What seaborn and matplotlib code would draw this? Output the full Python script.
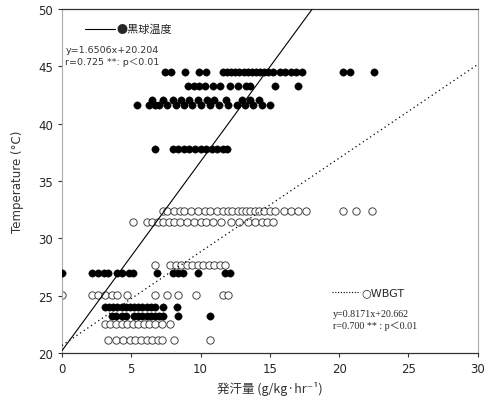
import numpy as np
import pandas as pd
import matplotlib
matplotlib.use("Agg")
import matplotlib.pyplot as plt
import seaborn as sns

# 黒球温度 (filled) : temperature level -> sweat values
globe_levels = [44.5, 43.3, 42.1, 41.6, 37.8, 27.0, 24.0, 23.2]
globe_x = [
    [7.4, 7.9, 8.9, 9.9, 10.4, 11.6, 11.9, 12.2, 12.5, 12.8, 13.1, 13.4, 13.7, 14.0,
     14.3, 14.6, 14.9, 15.2, 15.7, 16.1, 16.5, 16.9, 17.3, 20.3, 20.8, 22.5],
    [9.1, 9.5, 9.9, 10.3, 10.9, 11.4, 12.1, 12.7, 13.3, 13.6, 15.4, 17.0],
    [6.5, 7.3, 8.0, 8.6, 9.2, 9.8, 10.5, 11.0, 11.8, 13.0, 13.6, 14.2],
    [5.4, 6.3, 6.7, 7.0, 7.6, 8.2, 8.8, 9.4, 10.0, 10.7, 11.3, 12.0, 12.6, 13.2,
     13.8, 14.4, 15.0],
    [6.7, 8.0, 8.4, 8.8, 9.2, 9.6, 10.0, 10.4, 10.8, 11.2, 11.6, 11.9],
    [0.0, 2.2, 2.6, 3.0, 3.3, 4.0, 4.3, 4.8, 5.1, 6.85, 8.0, 8.4, 8.7, 9.8, 11.75, 12.1],
    [3.1, 3.4, 3.7, 4.0, 4.3, 4.6, 4.9, 5.2, 5.5, 5.8, 6.1, 6.4, 6.7, 7.3, 8.3],
    [3.6, 3.9, 4.3, 4.6, 5.2, 5.5, 5.8, 6.1, 6.4, 6.7, 7.0, 7.3, 8.4, 10.7],
]

# WBGT (open)
wbgt_levels = [32.4, 31.4, 27.7, 25.1, 22.5, 21.1]
wbgt_x = [
    [7.3, 7.6, 8.1, 8.5, 8.8, 9.3, 9.8, 10.3, 10.7, 11.2, 11.6, 12.0, 12.3, 12.7,
     13.0, 13.3, 13.6, 13.9, 14.2, 14.6, 15.0, 15.4, 16.0, 16.5, 17.0, 17.6,
     20.3, 21.2, 22.4],
    [5.1, 6.1, 6.5, 6.9, 7.3, 7.7, 8.1, 8.5, 9.0, 9.5, 10.0, 10.4, 10.9, 11.5,
     12.2, 12.8, 13.4, 13.9, 14.4, 14.8, 15.2],
    [6.7, 7.8, 8.2, 8.6, 9.0, 9.4, 9.8, 10.2, 10.6, 11.0, 11.4, 11.75],
    [0.0, 2.2, 2.6, 3.1, 3.6, 4.0, 4.7, 6.7, 7.6, 8.4, 9.7, 11.6, 12.0],
    [3.1, 3.5, 3.9, 4.3, 4.7, 5.1, 5.5, 5.9, 6.3, 6.7, 7.2, 7.8],
    [3.3, 3.9, 4.4, 4.9, 5.3, 5.7, 6.1, 6.5, 6.9, 7.2, 8.1, 10.7],
]

# regression lines
globe_fit = (1.6506, 20.204)
wbgt_fit = (0.8171, 20.662)

x_ticks = [0, 5, 10, 15, 20, 25, 30]
y_ticks = [20, 25, 30, 35, 40, 45, 50]


def to_frame(levels, xs):
    rows = []
    for lvl, vals in zip(levels, xs):
        for v in vals:
            rows.append({"sweat": v, "temp": lvl})
    return pd.DataFrame(rows)


globe = to_frame(globe_levels, globe_x)
wbgt = to_frame(wbgt_levels, wbgt_x)

sns.set_style("ticks")
plt.rcParams["font.family"] = ["DejaVu Sans", "Noto Sans CJK JP"]

fig = plt.figure(figsize=(4.88, 4.06), dpi=100)
ax = fig.add_axes([0.127, 0.128, 0.852, 0.847])

sns.scatterplot(data=wbgt, x="sweat", y="temp", ax=ax, s=28, marker="o",
                facecolor="white", edgecolor="#444444", linewidth=0.7, zorder=2)
sns.scatterplot(data=globe, x="sweat", y="temp", ax=ax, s=28, marker="o",
                color="black", edgecolor="black", linewidth=0.3, zorder=3)

a, b = globe_fit
xg = np.array([0, (50 - b) / a])
ax.plot(xg, a * xg + b, color="black", lw=0.8, zorder=4)
a2, b2 = wbgt_fit
xw = np.array([0, 30])
ax.plot(xw, a2 * xw + b2, color="black", lw=0.9, ls=(0, (1, 2.5)), zorder=4)

ax.set_xlim(0, 30)
ax.set_ylim(20, 50)
ax.set_xticks(x_ticks)
ax.set_yticks(y_ticks)
ax.tick_params(labelsize=8.5, length=3, width=0.8, color="#333333")
for side in ["left", "right"]:
    ax.spines[side].set_color("#aaaaaa")
    ax.spines[side].set_linewidth(0.8)
for side in ["top", "bottom"]:
    ax.spines[side].set_color("#333333")
    ax.spines[side].set_linewidth(0.9)

ax.set_xlabel("発汗量 (g/kg·hr⁻¹)", fontsize=9,
              family=["Noto Sans CJK JP", "DejaVu Sans"], labelpad=4, color="#333333")
ax.set_ylabel("Temperature (°C)", fontsize=8.5, labelpad=10, color="#333333")

# legends
ax.plot([0.055, 0.127], [0.942, 0.942], transform=ax.transAxes, color="black", lw=0.8)
ax.text(0.132, 0.942, "●黒球温度", transform=ax.transAxes, fontsize=8,
        va="center", family=["Noto Sans CJK JP", "DejaVu Sans"])
ax.text(0.008, 0.884, "y=1.6506x+20.204", transform=ax.transAxes, fontsize=6.8,
        va="center", color="#333333")
ax.text(0.008, 0.849, "r=0.725 **: p＜0.01", transform=ax.transAxes, fontsize=6.8,
        va="center", color="#333333", family=["DejaVu Sans", "Noto Sans CJK JP"])

ax.plot([0.649, 0.716], [0.177, 0.177], transform=ax.transAxes, color="black",
        lw=0.8, ls=(0, (1, 1.5)))
ax.text(0.721, 0.177, "○WBGT", transform=ax.transAxes, fontsize=8,
        va="center", family=["DejaVu Sans", "Noto Sans CJK JP"])
ax.text(0.652, 0.116, "y=0.8171x+20.662", transform=ax.transAxes, fontsize=7.2,
        va="center", family="Liberation Serif")
ax.text(0.652, 0.081, "r=0.700 ** : p＜0.01", transform=ax.transAxes, fontsize=7.2,
        va="center", family=["Liberation Serif", "Noto Sans CJK JP"])

fig.savefig("out.png", dpi=100)
